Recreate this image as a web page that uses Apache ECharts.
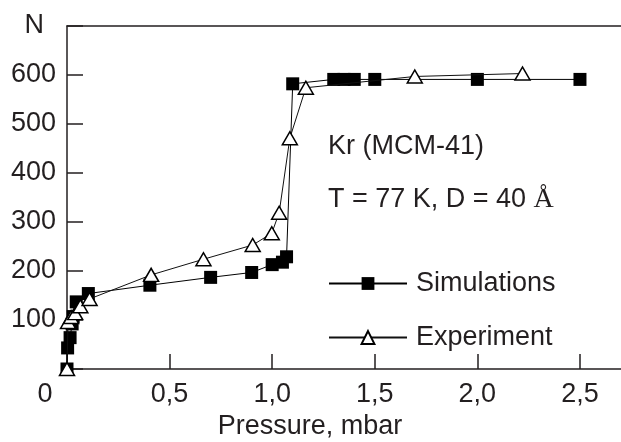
<!DOCTYPE html>
<html>
<head>
<meta charset="utf-8">
<script src="https://cdn.jsdelivr.net/npm/echarts@6/dist/echarts.min.js"></script>
<style>html,body{margin:0;padding:0;background:#fff}#c{width:621px;height:442px}</style>
</head>
<body>
<div id="c"></div>
<script>
// Data
const simX = [0, 0.003, 0.015, 0.025, 0.03, 0.045, 0.104, 0.404, 0.70, 0.90, 1.0, 1.05, 1.07, 1.10, 1.30, 1.35, 1.40, 1.50, 2.0, 2.5];
const simY = [0, 43, 64, 92, 107, 137, 154, 171, 187, 197, 213, 218, 229, 582, 591, 591, 591, 591, 591, 591];
const expX = [0, 0.005, 0.02, 0.04, 0.065, 0.11, 0.41, 0.665, 0.905, 0.998, 1.034, 1.086, 1.164, 1.695, 2.22];
const expY = [0, 96, 106, 114, 128, 143, 192, 224, 253, 277, 319, 471, 574, 597, 603];
const xTicks = ['0', '0,5', '1,0', '1,5', '2,0', '2,5'];
const yTicks = ['100', '200', '300', '400', '500', '600'];
const seriesNames = ['Simulations', 'Experiment'];

const FONT = 'Liberation Sans';
const FS = 27;
const INK = '#231f20';
const zip = (a, b) => a.map((v, i) => [v, b[i]]);

const chart = echarts.init(document.getElementById('c'), null, {renderer: 'canvas'});
chart.setOption({
  animation: false,
  backgroundColor: '#fff',
  textStyle: {fontFamily: FONT, color: INK},
  grid: {left: 67, top: 26, right: 0, bottom: 73, containLabel: false, outerBoundsMode: 'none'},
  xAxis: [{
    type: 'value', min: 0, max: 2.7, interval: 0.5, position: 'bottom',
    splitLine: {show: false},
    axisLine: {show: true, lineStyle: {color: INK, width: 1.5}},
    axisTick: {show: true, inside: true, length: 15, lineStyle: {color: INK, width: 1.5}},
    axisLabel: {
      margin: 12, fontSize: FS, fontFamily: FONT, color: INK, showMaxLabel: false,
      formatter: v => {
        const i = Math.round(v / 0.5);
        if (Math.abs(v - i * 0.5) > 1e-6 || i >= xTicks.length) return '';
        return i === 0 ? '{z|' + xTicks[0] + '}' : xTicks[i];
      },
      rich: {z: {fontSize: FS, fontFamily: FONT, color: INK, padding: [0, 44, 0, 0]}}
    },
    name: 'Pressure, mbar', nameLocation: 'middle', nameGap: 42,
    nameTextStyle: {fontSize: FS, fontFamily: FONT, color: INK, padding: [0, 68, 0, 0]}
  }, {
    type: 'value', min: 0, max: 2.7, position: 'top',
    splitLine: {show: false},
    axisLine: {show: true, lineStyle: {color: INK, width: 1.5}},
    axisTick: {show: false}, axisLabel: {show: false}
  }],
  yAxis: {
    type: 'value', min: 0, max: 700, interval: 100,
    splitLine: {show: false},
    axisLine: {show: true, lineStyle: {color: INK, width: 1.5}},
    axisTick: {show: true, inside: true, length: 16, lineStyle: {color: INK, width: 1.5}},
    axisLabel: {
      margin: 11, fontSize: FS, fontFamily: FONT, color: INK,
      formatter: v => {
        const i = Math.round(v / 100) - 1;
        return (i >= 0 && i < yTicks.length) ? yTicks[i] : '';
      }
    },
    name: 'N', nameLocation: 'end', nameGap: 0,
    nameTextStyle: {fontSize: FS, fontFamily: FONT, color: INK, align: 'right', verticalAlign: 'middle', padding: [0, 23, 0, 0]}
  },
  legend: {
    orient: 'vertical', left: 328, top: 270, itemGap: 27, padding: 0,
    itemWidth: 78, itemHeight: 16,
    textStyle: {fontSize: FS, fontFamily: FONT, color: INK, padding: [0, 0, 0, 4]},
    data: seriesNames
  },
  graphic: [
    {type: 'text', left: 328, top: 133, style: {text: 'Kr (MCM-41)', font: FS + 'px "Liberation Sans"', fill: INK}},
    {type: 'text', left: 328, top: 186, style: {
      text: 'T = 77 K, D = 40 {s|Å}', font: FS + 'px "Liberation Sans"', fill: INK,
      rich: {s: {fontFamily: 'Liberation Serif', fontSize: FS + 1, fill: INK}}
    }}
  ],
  series: [{
    name: seriesNames[0], type: 'line', data: zip(simX, simY),
    symbol: 'rect', symbolSize: 13, showAllSymbol: true,
    lineStyle: {color: '#000', width: 1},
    itemStyle: {color: '#000', borderColor: '#000', borderWidth: 0},
    z: 2
  }, {
    name: seriesNames[1], type: 'line', data: zip(expX, expY),
    symbol: 'triangle', symbolSize: [15, 13], showAllSymbol: true,
    lineStyle: {color: '#111', width: 1},
    itemStyle: {color: '#fff', borderColor: '#000', borderWidth: 1.5},
    z: 3
  }]
});
</script>
</body>
</html>
